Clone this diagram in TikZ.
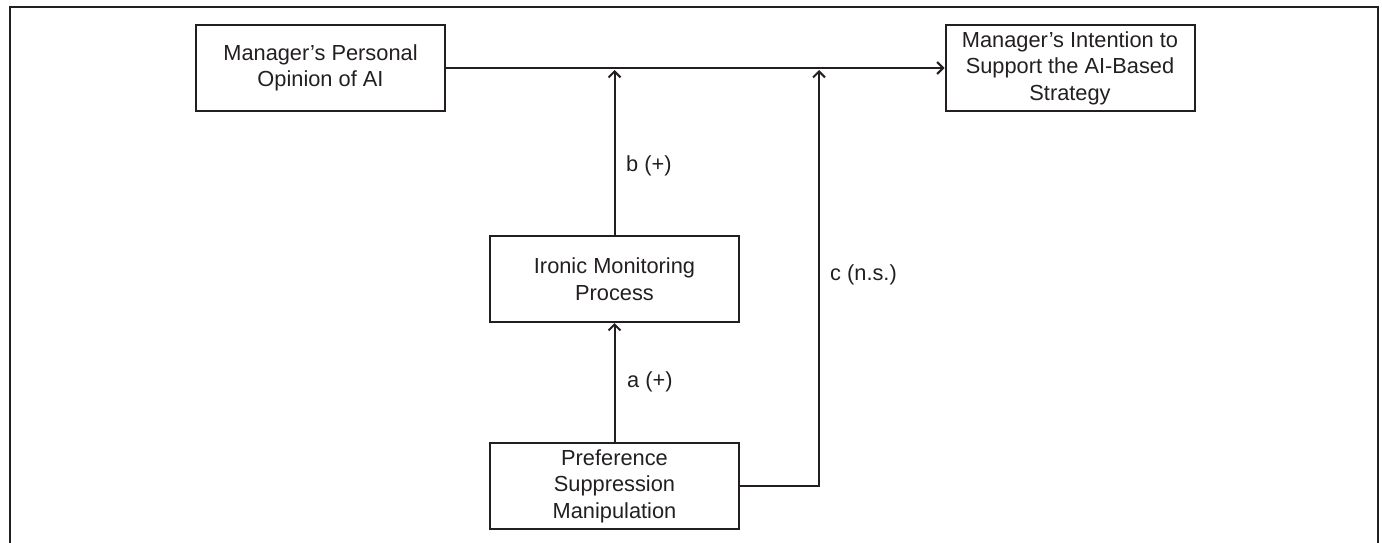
\documentclass[tikz,border=0pt]{standalone}
\usepackage{fontspec}
\setmainfont{Liberation Sans}
\usetikzlibrary{arrows.meta,calc}
\definecolor{ink}{HTML}{231F20}
\begin{document}
\begin{tikzpicture}[x=1pt,y=-1pt,
  box/.style={draw=ink,line width=2pt,minimum width=249pt,minimum height=86pt,inner sep=0pt,align=center,text=ink,font=\fontsize{21.8}{26.5}\selectfont},
  lbl/.style={anchor=west,text=ink,inner sep=0pt,font=\fontsize{21.8}{26.5}\selectfont},
  conn/.style={draw=ink,line width=2pt},
  arr/.style={conn,-{Straight Barb[length=6pt,width=12pt,line width=2pt]}}]
\useasboundingbox (0,0) rectangle (1382,542);
\draw[ink,line width=2.8pt] (10,560) -- (10,7) -- (1378,7) -- (1378,560);
\node[box] (op) at (320.5,68) {Manager’s Personal\\Opinion of AI};
\node[box] (in) at (1070,68) {Manager’s Intention to\\Support the AI-Based\\Strategy};
\node[box] (ir) at (614.5,279) {Ironic Monitoring\\Process};
\node[box] (pr) at (614.5,486) {Preference\\Suppression\\Manipulation};
\coordinate (bt) at (614.5,68);
\coordinate (ct) at (819,68);
\draw[arr] (op.east) -- (in.west);
\draw[arr,shorten >=2pt] (ir.north) -- (bt);
\draw[arr] (pr.north) -- (ir.south);
\draw[arr,shorten >=2pt] (pr.east) -| (ct);
\node[lbl] (lb) at (626,166) {b (+)};
\node[lbl] (la) at (627,382) {a (+)};
\node[lbl] (lc) at (830,275) {c (n.s.)};
\end{tikzpicture}
\end{document}
